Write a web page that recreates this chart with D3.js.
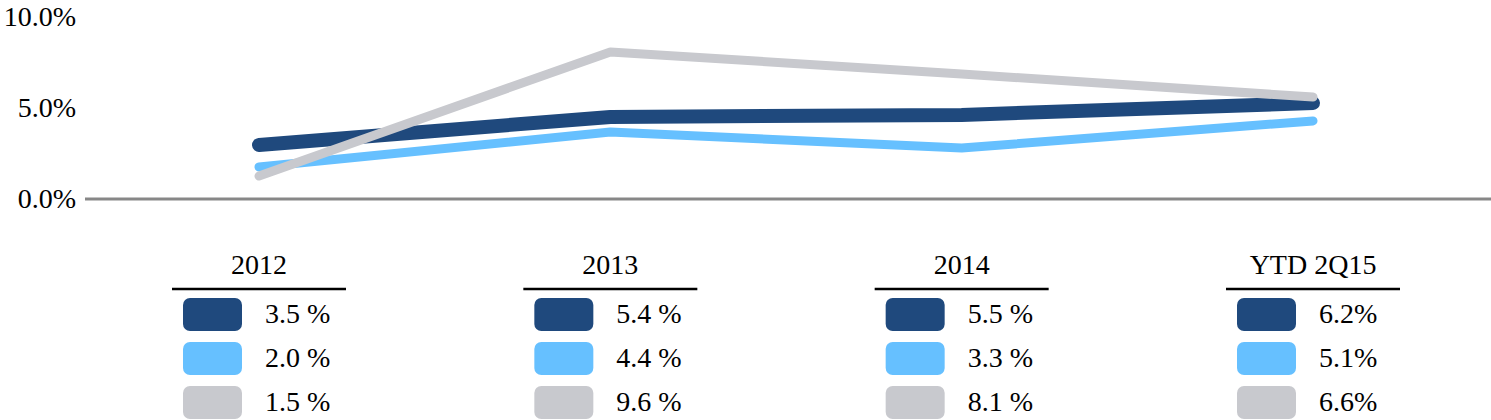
<!DOCTYPE html>
<html>
<head>
<meta charset="utf-8">
<script src="https://cdn.jsdelivr.net/npm/d3@7"></script>
<style>
  body { margin: 0; background: #fff; }
  text { font-family: "Liberation Serif", "Times New Roman", serif; font-size: 28px; fill: #000; }
</style>
</head>
<body>
<svg id="chart" width="1491" height="420"></svg>
<script>
// periods on the x axis / table columns
var periods = ["2012", "2013", "2014", "YTD 2Q15"];

// line values (%) as read against the axis
var darkLine  = [2.97, 4.51, 4.62, 5.27];
var lightLine = [1.76, 3.68, 2.80, 4.29];
var grayLine  = [1.26, 8.08, 6.87, 5.60];

// table labels under each period
var darkLabels  = ["3.5 %", "5.4 %", "5.5 %", "6.2%"];
var lightLabels = ["2.0 %", "4.4 %", "3.3 %", "5.1%"];
var grayLabels  = ["1.5 %", "9.6 %", "8.1 %", "6.6%"];

var yTicks = [0, 5, 10];

var colors = ["#1f497d", "#66c0ff", "#c8c9ce"];
var widths = [14, 9, 9];

var svg = d3.select("#chart");

var x = d3.scalePoint().domain(periods).range([259, 1313]);
var y = d3.scaleLinear().domain([0, 10]).range([199, 17]);

// y tick labels
var yAxis = d3.axisLeft(y)
    .tickValues(yTicks)
    .tickSize(0)
    .tickPadding(0)
    .tickFormat(function(d){ return d3.format(".1f")(d) + "%"; });

var gy = svg.append("g")
    .attr("transform", "translate(76,0)")
    .call(yAxis);
gy.select(".domain").remove();
gy.selectAll("text")
    .attr("fill", "#000")
    .style("font-family", "'Liberation Serif', 'Times New Roman', serif")
    .style("font-size", "28px");

// baseline
svg.append("line")
    .attr("x1", 85).attr("x2", 1491)
    .attr("y1", y(0)).attr("y2", y(0))
    .attr("stroke", "#878787")
    .attr("stroke-width", 3);

// lines
var series = [darkLine, lightLine, grayLine];
var line = d3.line()
    .x(function(d, i){ return x(periods[i]); })
    .y(function(d){ return y(d); });

series.forEach(function(s, k){
    svg.append("path")
        .datum(s)
        .attr("d", line)
        .attr("fill", "none")
        .attr("stroke", colors[k])
        .attr("stroke-width", widths[k])
        .attr("stroke-linecap", "round")
        .attr("stroke-linejoin", "round");
});

// table under the chart
var labels = [darkLabels, lightLabels, grayLabels];
var cols = svg.selectAll("g.col")
    .data(periods)
    .enter().append("g")
    .attr("class", "col")
    .attr("transform", function(d){ return "translate(" + x(d) + ",0)"; });

cols.append("text")
    .attr("x", 0).attr("y", 274)
    .attr("text-anchor", "middle")
    .text(function(d){ return d; });

cols.append("line")
    .attr("x1", -87).attr("x2", 87)
    .attr("y1", 289).attr("y2", 289)
    .attr("stroke", "#000")
    .attr("stroke-width", 2.3);

cols.each(function(p, i){
    var g = d3.select(this);
    labels.forEach(function(arr, k){
        g.append("rect")
            .attr("x", -76).attr("y", 298 + k * 44)
            .attr("width", 59).attr("height", 33)
            .attr("rx", 7).attr("ry", 7)
            .attr("fill", colors[k]);
        g.append("text")
            .attr("x", 6).attr("y", 323 + k * 44)
            .text(arr[i]);
    });
});
</script>
</body>
</html>
